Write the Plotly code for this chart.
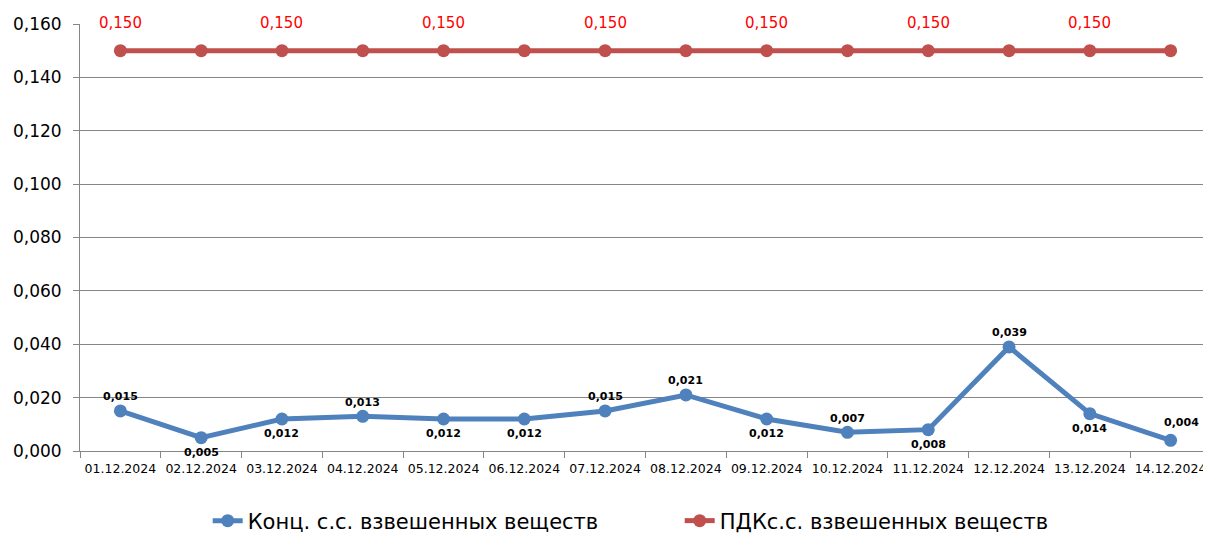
import plotly.graph_objects as go

dates = ["01.12.2024", "02.12.2024", "03.12.2024", "04.12.2024", "05.12.2024",
         "06.12.2024", "07.12.2024", "08.12.2024", "09.12.2024", "10.12.2024",
         "11.12.2024", "12.12.2024", "13.12.2024", "14.12.2024"]
conc = [0.015, 0.005, 0.012, 0.013, 0.012, 0.012, 0.015, 0.021, 0.012, 0.007,
        0.008, 0.039, 0.014, 0.004]
pdk = [0.150] * 14
conc_label_above = [True, False, False, True, False, False, True, True, False,
                    True, False, True, False, True]
pdk_label_shown = [i % 2 == 0 for i in range(14)]

name_conc = "Конц. с.с. взвешенных веществ"
name_pdk = "ПДКс.с. взвешенных веществ"

FONT = "DejaVu Sans, sans-serif"

def fmt(v):
    return f"{v:.3f}".replace(".", ",")

fig = go.Figure()
fig.add_trace(go.Scatter(
    x=dates, y=conc, name=name_conc, mode="lines+markers",
    line=dict(color="#4F81BD", width=5), marker=dict(color="#4F81BD", size=13),
    cliponaxis=False,
))
fig.add_trace(go.Scatter(
    x=dates, y=pdk, name=name_pdk, mode="lines+markers",
    line=dict(color="#C0504D", width=5), marker=dict(color="#C0504D", size=13),
    cliponaxis=False,
))

for i, (d, v) in enumerate(zip(dates, conc)):
    above = conc_label_above[i]
    fig.add_annotation(
        x=d, y=v, text=f"<b>{fmt(v)}</b>", showarrow=False,
        yshift=(18 if i == 13 else 14) if above else -15,
        xshift=11 if i == 13 else 0,
        font=dict(family=FONT, size=11, color="#000000"),
    )
for i, (d, v) in enumerate(zip(dates, pdk)):
    if pdk_label_shown[i]:
        fig.add_annotation(
            x=d, y=v, text=fmt(v), showarrow=False, yshift=28,
            font=dict(family=FONT, size=15, color="#FF0000"),
        )

fig.update_layout(
    width=1203, height=525,
    margin=dict(l=72, r=0, t=16, b=82),
    paper_bgcolor="white", plot_bgcolor="white",
    font=dict(family=FONT, color="#000000"),
    showlegend=True,
    legend=dict(orientation="h", xref="container", x=0.166, xanchor="left",
                yref="container", y=0.0229, yanchor="middle",
                font=dict(size=21), entrywidth=427, itemwidth=30,
                bgcolor="rgba(0,0,0,0)"),
    separators=",.",
)
fig.update_xaxes(
    type="category", range=[-0.5, len(dates) - 0.5],
    showgrid=False, showline=True, linecolor="#868686", linewidth=1,
    ticks="outside", tickson="boundaries", ticklen=6, tickcolor="#868686",
    tickfont=dict(size=12.5, color="#000000"), tickangle=0, automargin=False,
    ticklabelstandoff=6,
)
fig.update_yaxes(
    range=[0, 0.16], dtick=0.02, tickformat=".3f", showgrid=True,
    gridcolor="#868686", gridwidth=1, showline=True, linecolor="#868686",
    ticks="outside", ticklen=6, tickcolor="#868686", zeroline=False,
    tickfont=dict(size=17, color="#000000"), automargin=False,
    ticklabelstandoff=8,
)

fig.write_html("out.html")
